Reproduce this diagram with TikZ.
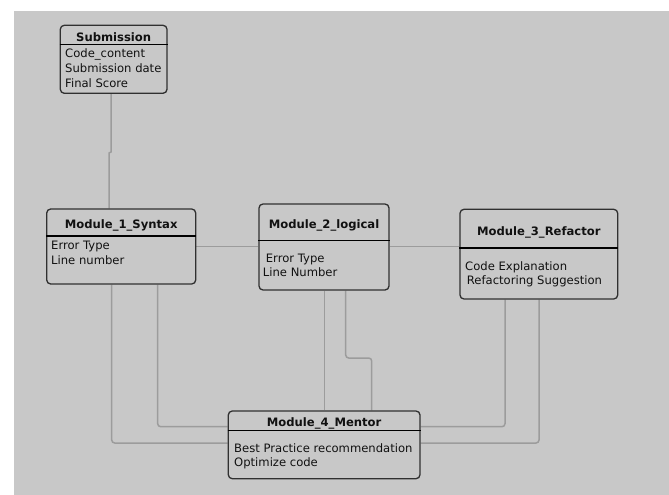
\documentclass[tikz,border=0pt]{standalone}
\usepackage{fontspec}
\setmainfont{DejaVu Sans}
\usepackage{tikz}
\pgfdeclarelayer{edgelayer}
\pgfdeclarelayer{nodelayer}
\pgfsetlayers{edgelayer,nodelayer,main}
\definecolor{panel}{HTML}{C8C8C8}
\definecolor{boxline}{HTML}{303030}
\definecolor{wire}{HTML}{9C9C9C}
\definecolor{ink}{HTML}{111111}
\tikzstyle{entity}=[rectangle,rounded corners=4pt,draw=boxline,fill=panel,line width=1.3pt,inner sep=0pt]
\tikzstyle{divider}=[draw=black,line width=1.5pt]
\tikzstyle{title}=[anchor=base,inner sep=0pt,text=ink,font=\fontsize{11.6}{14}\selectfont\bfseries]
\tikzstyle{attr}=[anchor=base west,inner sep=0pt,text=ink,font=\fontsize{11.6}{14}\selectfont]
\tikzstyle{link}=[draw=wire,line width=1.5pt,rounded corners=3pt]

\begin{document}
\begin{tikzpicture}[x=1pt,y=-1pt]
	\useasboundingbox (0,0) rectangle (669,495);
	\begin{pgfonlayer}{nodelayer}
		% Submission
		\node [style=entity,minimum width=106.7pt,minimum height=68pt] (submission) at (113.65,59.3) {};
		\draw [style=divider] (submission.west |- 0,44.7) -- (submission.east |- 0,44.7);
		\node [style=title] (submission-t) at (113.65,41.3) {Submission};
		\node [style=attr] (submission-a) at (65,57.7) {Code\_content};
		\node [style=attr] (submission-b) at (65,72.7) {Submission date};
		\node [style=attr] (submission-c) at (65,87.3) {Final Score};
		% Module 1
		\node [style=entity,minimum width=149pt,minimum height=75pt] (syntax) at (121.2,246.5) {};
		\draw [style=divider] (syntax.west |- 0,236) -- (syntax.east |- 0,236);
		\node [style=title] (syntax-t) at (121.2,228.3) {Module\_1\_Syntax};
		\node [style=attr] (syntax-a) at (51,249) {Error Type};
		\node [style=attr] (syntax-b) at (51,264) {Line number};
		% Module 2
		\node [style=entity,minimum width=130pt,minimum height=86pt] (logical) at (324,247) {};
		\draw [style=divider] (logical.west |- 0,240.7) -- (logical.east |- 0,240.7);
		\node [style=title] (logical-t) at (324,228) {Module\_2\_logical};
		\node [style=attr] (logical-a) at (265.7,262.3) {Error Type};
		\node [style=attr] (logical-b) at (262.7,276) {Line Number};
		% Module 3
		\node [style=entity,minimum width=157.7pt,minimum height=89.7pt] (refactor) at (538.85,254.15) {};
		\draw [style=divider] (refactor.west |- 0,248) -- (refactor.east |- 0,248);
		\node [style=title] (refactor-t) at (538.85,235.3) {Module\_3\_Refactor};
		\node [style=attr] (refactor-a) at (465,270.7) {Code Explanation};
		\node [style=attr] (refactor-b) at (466.7,284.3) {Refactoring Suggestion};
		% Module 4
		\node [style=entity,minimum width=191.7pt,minimum height=67.7pt] (mentor) at (324.15,444.85) {};
		\draw [style=divider] (mentor.west |- 0,430.7) -- (mentor.east |- 0,430.7);
		\node [style=title] (mentor-t) at (324.15,426.7) {Module\_4\_Mentor};
		\node [style=attr] (mentor-a) at (234,452) {Best Practice recommendation};
		\node [style=attr] (mentor-b) at (234,466) {Optimize code};
	\end{pgfonlayer}
	\begin{pgfonlayer}{edgelayer}
		\fill [panel] (14,11) rectangle (669,495);
		\draw [style=link,sharp corners] (submission.south -| 111,0) -- (111,152) -- (109,153) -- (syntax.north -| 109,0);
		\draw [style=link] (syntax.east |- 0,246.7) -- (logical.west |- 0,246.7);
		\draw [style=link] (logical.east |- 0,246.7) -- (refactor.west |- 0,246.7);
		\draw [style=link] (syntax.south -| 111.7,0) -- (111.7,443) -- (mentor.west |- 0,443);
		\draw [style=link] (syntax.south -| 157.7,0) -- (157.7,426.7) -- (mentor.west |- 0,426.7);
		\draw [style=link] (logical.south -| 324.3,0) -- (mentor.north -| 324.3,0);
		\draw [style=link] (logical.south -| 345.7,0) -- (345.7,358) -- (371.7,358) -- (mentor.north -| 371.7,0);
		\draw [style=link] (refactor.south -| 505,0) -- (505,426.7) -- (mentor.east |- 0,426.7);
		\draw [style=link] (refactor.south -| 539,0) -- (539,443) -- (mentor.east |- 0,443);
	\end{pgfonlayer}
\end{tikzpicture}
\end{document}
